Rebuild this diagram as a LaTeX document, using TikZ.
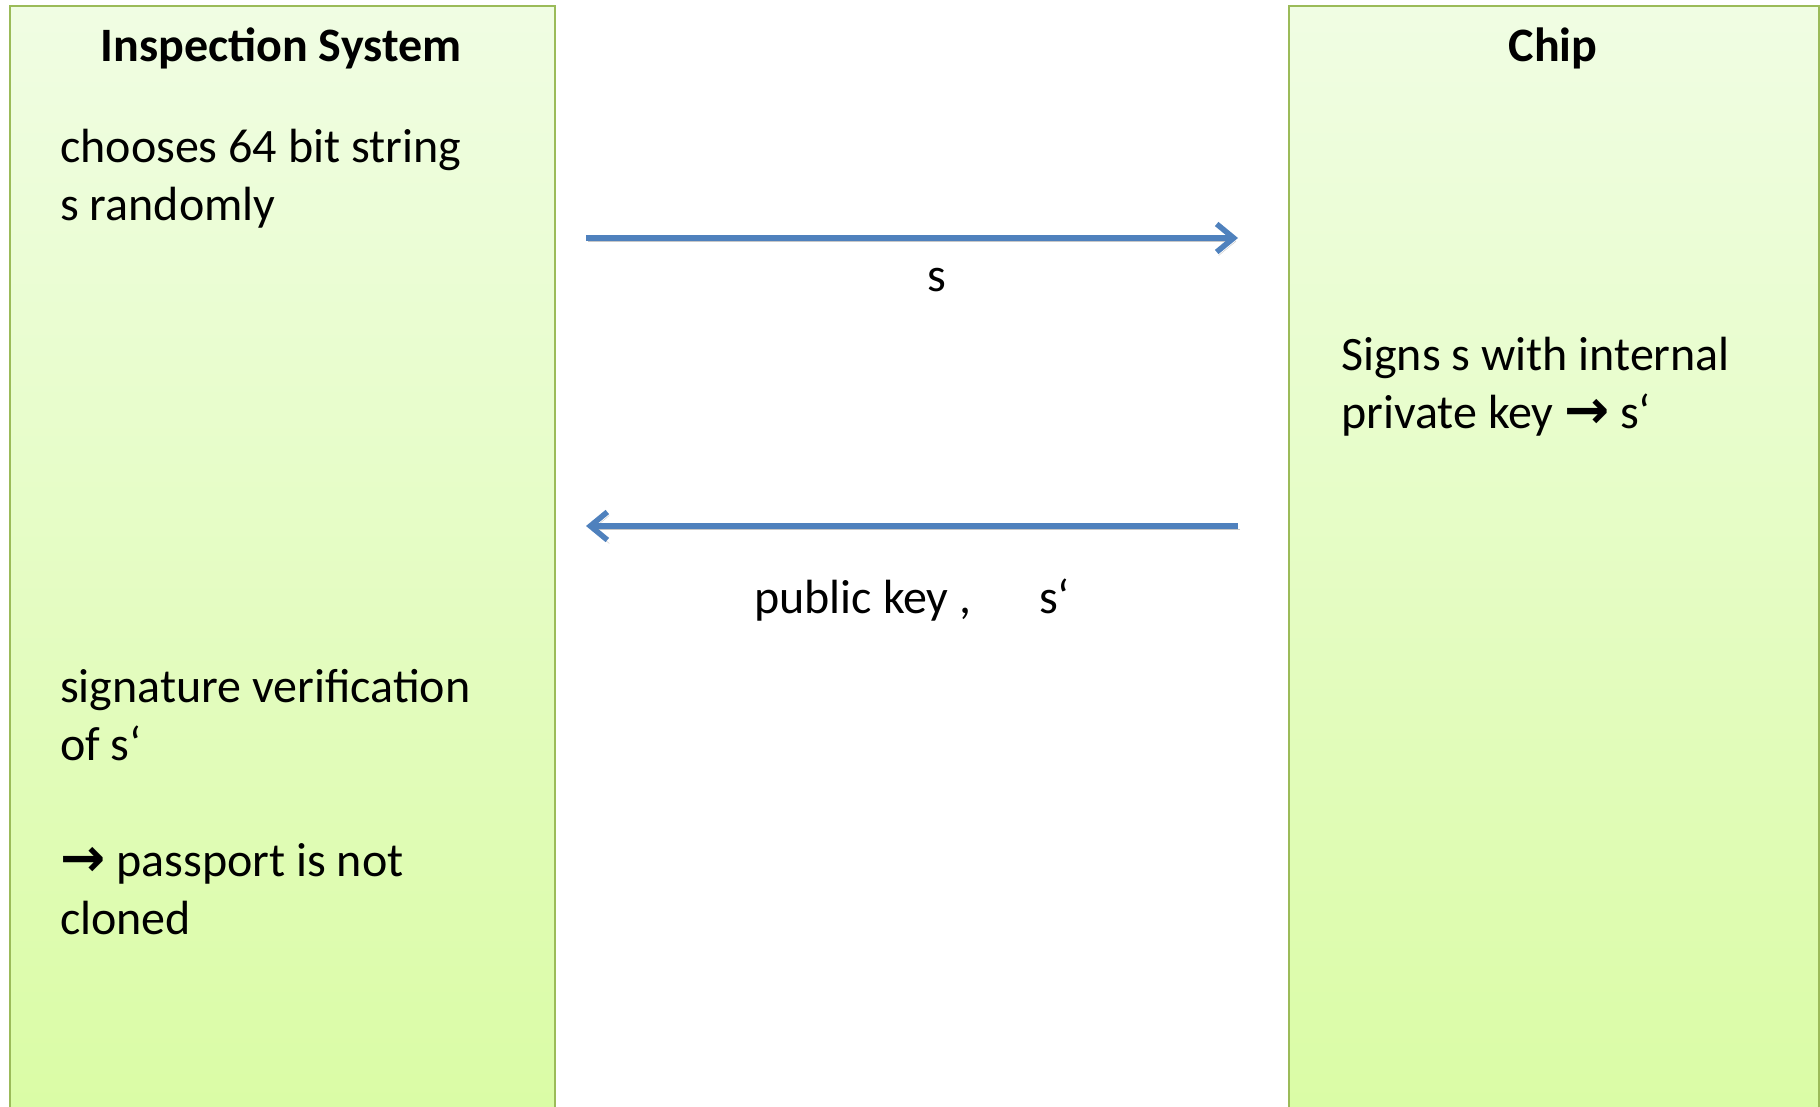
\documentclass[tikz,border=0pt]{standalone}
\usepackage{fontspec}
\setmainfont{Carlito}
\newfontfamily\arrowfont{DejaVu Sans}
\usetikzlibrary{arrows.meta}
\definecolor{lanetop}{HTML}{F0FDE3}
\definecolor{lanebottom}{HTML}{DAFCA5}
\definecolor{laneline}{HTML}{9BBB59}
\definecolor{msgblue}{HTML}{4F81BD}
\newcommand{\yields}{{\arrowfont\bfseries\fontsize{54}{58}\selectfont →}}

\begin{document}
\begin{tikzpicture}[
        x=1pt, y=1pt,
        lane/.style={rectangle, draw=laneline, line width=2pt, top color=lanetop, bottom color=lanebottom, minimum height=1112pt, anchor=north west, inner sep=0pt},
        title/.style={font=\fontsize{48}{58}\selectfont\bfseries, anchor=base, inner sep=0pt},
        txt/.style={font=\fontsize{48}{58}\selectfont, align=left, anchor=base west, inner sep=0pt},
        lbl/.style={font=\fontsize{48}{58}\selectfont, inner sep=0pt},
        arrow/.style={draw=msgblue, line width=5.5pt, -{Straight Barb[length=17pt, width=28pt]}, preaction={draw=black!22, transform canvas={shift={(2pt,-3.5pt)}}}}
    ]
    \path[use as bounding box, clip] (0,0) rectangle (1820,-1107);
%
    % Nodes
    \node[lane, minimum width=545pt] (insp) at (9,-5) {};
    \node[lane, minimum width=530pt] (chip) at (1288,-5) {};
    \node[title] (insptitle) at (281,-62) {Inspection System};
    \node[title] (chiptitle) at (1553,-62) {Chip};
%
    % base anchor sits on the last line
    \node[txt] (choose) at (60,-221) {chooses 64 bit string\\s randomly};
    \node[txt] (sign) at (1341,-428) {Signs s with internal\\private key \yields{} s‘};
    \node[txt] (verify) at (60,-934) {signature verification\\of s‘\\[58pt]\yields{} passport is not\\cloned};
%
    \coordinate (sOut) at (586,-238);
    \coordinate (sIn) at (1238,-238);
    \coordinate (rOut) at (1238,-526);
    \coordinate (rIn) at (586,-526);
%
    % Arrows
    \draw[arrow] (sOut) -- (sIn);
    \draw[arrow] (rOut) -- (rIn);
%
    \node[lbl] (slbl) at (937,-280) {s};
    \node[lbl, anchor=base] (rlbl) at (912,-613) {public key ,\hspace{68pt}s‘};
%
\end{tikzpicture}
\end{document}
